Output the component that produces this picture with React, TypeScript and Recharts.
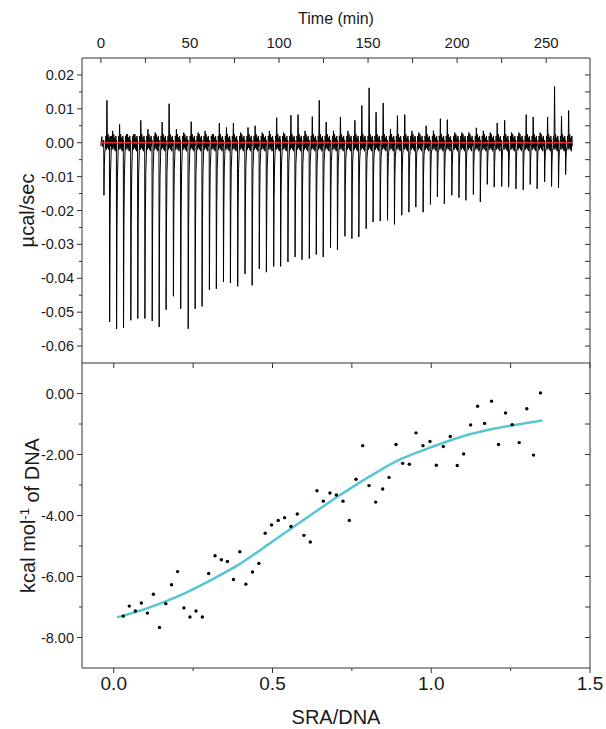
import React from "react";
import {
  ComposedChart,
  LineChart,
  Line,
  Scatter,
  XAxis,
  YAxis,
  Label,
} from "recharts";

// raw ITC thermogram: injection times (min), peak minima and noise spikes (µcal/sec)
const INJ_TIME = [
  1.6, 4.8, 8.7, 12.6, 16.7, 20.6, 24.6, 28.7, 32.6, 36.5, 40.6, 44.7, 48.9,
  52.8, 56.7, 60.8, 64.7, 68.7, 72.6, 76.7, 80.8, 84.8, 88.8, 92.8, 96.9,
  100.8, 104.9, 108.9, 112.8, 116.9, 120.8, 124.7, 128.8, 132.7, 136.9, 140.8,
  144.7, 148.8, 152.7, 156.7, 160.8, 164.7, 168.8, 172.8, 176.7, 180.8, 184.9,
  188.8, 192.7, 196.9, 200.9, 204.8, 209.0, 212.9, 216.8, 220.7, 224.9, 228.8,
  232.9, 237.0, 240.9, 244.8, 249.0, 252.9, 256.8, 260.8,
];
const PEAK_MIN = [
  -0.0155, -0.0529, -0.0549, -0.0546, -0.0524, -0.0519, -0.0519, -0.0526,
  -0.0544, -0.0493, -0.0453, -0.049, -0.0549, -0.049, -0.0483, -0.0434,
  -0.0431, -0.0411, -0.0414, -0.0424, -0.0387, -0.0421, -0.0372, -0.0382,
  -0.0365, -0.0365, -0.0352, -0.0337, -0.0345, -0.0342, -0.033, -0.0337,
  -0.031, -0.0316, -0.0276, -0.0283, -0.0278, -0.0254, -0.0234, -0.0231,
  -0.0229, -0.0241, -0.0214, -0.0205, -0.019, -0.0205, -0.0182, -0.016,
  -0.018, -0.0155, -0.0162, -0.017, -0.0153, -0.0175, -0.0123, -0.0131,
  -0.0129, -0.0131, -0.0136, -0.0139, -0.0123, -0.0136, -0.0116, -0.0129,
  -0.0133, -0.0094,
];
const PEAK_MAX = [
  0.0125, 0.0035, 0.0054, 0.0025, 0.0025, 0.0066, 0.004, 0.003, 0.0061,
  0.0115, 0.004, 0.003, 0.0062, 0.003, 0.0035, 0.0025, 0.0058, 0.0045, 0.0058,
  0.003, 0.0045, 0.005, 0.003, 0.0035, 0.0074, 0.003, 0.0081, 0.0083, 0.0035,
  0.0077, 0.0125, 0.0061, 0.0035, 0.0076, 0.0035, 0.0066, 0.011, 0.0162,
  0.009, 0.0117, 0.004, 0.008, 0.0083, 0.0035, 0.003, 0.005, 0.0035, 0.0071,
  0.0068, 0.003, 0.003, 0.003, 0.0044, 0.0035, 0.003, 0.0058, 0.0066, 0.003,
  0.003, 0.0083, 0.0076, 0.003, 0.0076, 0.0166, 0.0078, 0.0095,
];
const BASELINE_TIME = [0, 264.5];

// integrated heats per injection
const RATIO = [
  0.03, 0.049, 0.068, 0.087, 0.106, 0.125, 0.144, 0.164, 0.182, 0.201, 0.221,
  0.24, 0.259, 0.279, 0.299, 0.319, 0.339, 0.358, 0.377, 0.397, 0.416, 0.437,
  0.457, 0.477, 0.497, 0.518, 0.538, 0.558, 0.578, 0.599, 0.619, 0.64, 0.66,
  0.681, 0.701, 0.722, 0.742, 0.763, 0.784, 0.804, 0.825, 0.847, 0.867, 0.889,
  0.91, 0.931, 0.952, 0.974, 0.996, 1.016, 1.038, 1.06, 1.082, 1.102, 1.124,
  1.146, 1.168, 1.19, 1.212, 1.234, 1.255, 1.277, 1.301, 1.322, 1.344,
];
const HEAT = [
  -7.3, -6.97, -7.13, -6.87, -7.2, -6.58, -7.67, -6.89, -6.27, -5.84, -7.03,
  -7.33, -7.13, -7.33, -5.9, -5.32, -5.45, -5.51, -6.1, -5.19, -6.25, -5.85,
  -5.57, -4.58, -4.31, -4.16, -4.07, -4.36, -3.95, -4.65, -4.87, -3.19, -3.53,
  -3.26, -3.33, -3.53, -4.16, -2.81, -1.71, -3.02, -3.56, -3.13, -2.75, -1.67,
  -2.29, -2.32, -1.29, -1.71, -1.57, -2.35, -1.74, -1.41, -2.36, -1.98, -1.03,
  -0.42, -0.98, -0.25, -1.67, -0.64, -1.02, -1.61, -0.5, -2.02, 0.02,
];

// fitted binding curve
const FIT_RATIO = [0.01, 0.1, 0.2, 0.3, 0.4, 0.5, 0.6, 0.7, 0.8, 0.9, 1.0, 1.1, 1.2, 1.3, 1.35];
const FIT_HEAT = [-7.34, -7.06, -6.66, -6.15, -5.57, -4.85, -4.13, -3.42, -2.76, -2.17, -1.76, -1.4, -1.15, -0.97, -0.89];

// ticks
const TIME_TICKS = [0, 25, 50, 75, 100, 125, 150, 175, 200, 225, 250];
const RATE_TICKS = [
  -0.06, -0.055, -0.05, -0.045, -0.04, -0.035, -0.03, -0.025, -0.02, -0.015,
  -0.01, -0.005, 0, 0.005, 0.01, 0.015, 0.02,
];
const RATIO_TICKS = [0, 0.25, 0.5, 0.75, 1, 1.25, 1.5];
const HEAT_TICKS = [-8, -7, -6, -5, -4, -3, -2, -1, 0];

const AXIS = "#333";
const TEXT = "#1a1a1a";
const FONT = "'Liberation Sans', Arial, sans-serif";

// one injection peak: sharp dip, fast recovery, then baseline noise
function peakPoints(t: number, lo: number, hi: number) {
  return [
    { t: t, v: 0.0008 },
    { t: t + 0.12, v: lo },
    { t: t + 0.35, v: lo * 0.45 },
    { t: t + 0.6, v: lo * 0.18 },
    { t: t + 0.9, v: lo * 0.06 - 0.001 },
    { t: t + 1.2, v: 0.002 },
    { t: t + 1.5, v: -0.002 },
    { t: t + 1.8, v: hi },
    { t: t + 2.1, v: -0.0015 },
    { t: t + 2.4, v: 0.0025 },
    { t: t + 2.7, v: -0.002 },
    { t: t + 3.0, v: 0.0015 },
    { t: t + 3.3, v: -0.0025 },
    { t: t + 3.6, v: 0.002 },
    { t: t + 3.85, v: -0.001 },
  ];
}

const trace = [
  { t: 0, v: -0.001 },
  { t: 0.5, v: 0.0018 },
  { t: 1.0, v: -0.0012 },
  ...INJ_TIME.flatMap((t, i) => peakPoints(t, PEAK_MIN[i], PEAK_MAX[i])),
];
const baseline = BASELINE_TIME.map((t) => ({ t, v: 0 }));
const heats = RATIO.map((x, i) => ({ x, y: HEAT[i] }));
const fit = FIT_RATIO.map((x, i) => ({ x, y: FIT_HEAT[i] }));

const near = (a: number, b: number) => Math.abs(a - b) < 1e-6;

const tickLeft = (isMajor: (v: number) => boolean, fmt: (v: number) => string, size: number) =>
  (p: any) => {
    const major = isMajor(p.payload.value);
    return (
      <g>
        <line x1={p.x - (major ? 5 : 3)} x2={p.x} y1={p.y} y2={p.y} stroke={AXIS} />
        {major && (
          <text x={p.x - 8} y={p.y} dy="0.35em" textAnchor="end" fontSize={size} fill={TEXT} fontFamily={FONT}>
            {fmt(p.payload.value)}
          </text>
        )}
      </g>
    );
  };

const tickRight = (isMajor: (v: number) => boolean) => (p: any) => (
  <line x1={p.x} x2={p.x - (isMajor(p.payload.value) ? 5 : 3)} y1={p.y} y2={p.y} stroke={AXIS} />
);

const tickTop = (isMajor: (v: number) => boolean, size: number) => (p: any) => {
  const major = isMajor(p.payload.value);
  return (
    <g>
      <line x1={p.x} x2={p.x} y1={p.y} y2={p.y + 5} stroke={AXIS} />
      {major && size > 0 && (
        <text x={p.x} y={p.y - 10} textAnchor="middle" fontSize={size} fill={TEXT} fontFamily={FONT}>
          {p.payload.value}
        </text>
      )}
    </g>
  );
};

const tickBottom = (isMajor: (v: number) => boolean, size: number) => (p: any) => {
  const major = isMajor(p.payload.value);
  return (
    <g>
      <line x1={p.x} x2={p.x} y1={p.y} y2={p.y + (major ? 5 : 3)} stroke={AXIS} />
      {major && (
        <text x={p.x} y={p.y + 22} textAnchor="middle" fontSize={size} fill={TEXT} fontFamily={FONT}>
          {p.payload.value.toFixed(1)}
        </text>
      )}
    </g>
  );
};

const rateMajor = (v: number) => near(v * 100, Math.round(v * 100));
const timeMajor = (v: number) => v % 50 === 0;
const ratioMajor = (v: number) => near(v * 2, Math.round(v * 2));
const heatMajor = (v: number) => v % 2 === 0;

export default function App() {
  return (
    <div style={{ position: "absolute", left: 0, top: 0, width: 606, height: 729, background: "#fff" }}>
      <div style={{ position: "absolute", left: 0, top: 0 }}>
        <LineChart width={606} height={373} data={trace} margin={{ top: 0, right: 15, bottom: 10, left: 0 }}>
          <XAxis
            dataKey="t"
            type="number"
            orientation="top"
            domain={[-10.6, 274.6]}
            ticks={TIME_TICKS}
            interval={0}
            height={58}
            allowDataOverflow
            tickSize={0}
            tickMargin={0}
            tickLine={false}
            axisLine={{ stroke: AXIS }}
            tick={tickTop(timeMajor, 15)}
          >
            <Label
              content={(props: any) => {
                const vb = props.viewBox;
                return (
                  <text x={vb.x + vb.width / 2} y={18} dy="0.35em" textAnchor="middle" fontSize={16} fill={TEXT} fontFamily={FONT}>
                    Time (min)
                  </text>
                );
              }}
            />
          </XAxis>
          <YAxis
            type="number"
            domain={[-0.065, 0.025]}
            ticks={RATE_TICKS}
            interval={0}
            width={82}
            allowDataOverflow
            tickSize={0}
            tickMargin={0}
            tickLine={false}
            axisLine={{ stroke: AXIS }}
            tick={tickLeft(rateMajor, (v) => v.toFixed(2), 14.5)}
          >
            <Label
              content={(props: any) => {
                const vb = props.viewBox;
                const cx = vb.x + 27;
                const cy = vb.y + vb.height / 2;
                return (
                  <text x={cx} y={cy} dy="0.35em" transform={`rotate(-90 ${cx} ${cy})`} textAnchor="middle" fontSize={20} fill={TEXT} fontFamily={FONT}>
                    µcal/sec
                  </text>
                );
              }}
            />
          </YAxis>
          <YAxis
            yAxisId="right"
            orientation="right"
            type="number"
            domain={[-0.065, 0.025]}
            ticks={RATE_TICKS}
            interval={0}
            width={1}
            allowDataOverflow
            tickSize={0}
            tickMargin={0}
            tickLine={false}
            axisLine={{ stroke: AXIS }}
            tick={tickRight(() => true)}
          />
          <Line
            dataKey="v"
            type="linear"
            stroke="#000"
            strokeWidth={1}
            dot={false}
            isAnimationActive={false}
          />
          <Line
            data={baseline}
            dataKey="v"
            type="linear"
            stroke="#e8302c"
            strokeWidth={1.5}
            dot={false}
            isAnimationActive={false}
          />
          <Line
            data={baseline}
            yAxisId="right"
            dataKey="v"
            stroke="none"
            dot={false}
            isAnimationActive={false}
          />
        </LineChart>
      </div>
      <div style={{ position: "absolute", left: 0, top: 353 }}>
        <ComposedChart width={606} height={376} margin={{ top: 9, right: 15, bottom: 0, left: 0 }}>
          <XAxis
            dataKey="x"
            type="number"
            domain={[-0.1, 1.5]}
            ticks={RATIO_TICKS}
            interval={0}
            height={61}
            allowDataOverflow
            tickSize={0}
            tickMargin={0}
            tickLine={false}
            axisLine={{ stroke: AXIS }}
            tick={tickBottom(ratioMajor, 19)}
          >
            <Label
              content={(props: any) => {
                const vb = props.viewBox;
                return (
                  <text x={vb.x + vb.width / 2} y={vb.y + 49} dy="0.35em" textAnchor="middle" fontSize={20} fill={TEXT} fontFamily={FONT}>
                    SRA/DNA
                  </text>
                );
              }}
            />
          </XAxis>
          <XAxis
            xAxisId="top"
            dataKey="x"
            orientation="top"
            type="number"
            domain={[-0.1, 1.5]}
            ticks={RATIO_TICKS}
            interval={0}
            height={1}
            allowDataOverflow
            tickSize={0}
            tickMargin={0}
            tickLine={false}
            axisLine={{ stroke: AXIS }}
            tick={tickTop(() => true, 0)}
          />
          <YAxis
            type="number"
            domain={[-9, 1]}
            ticks={HEAT_TICKS}
            interval={0}
            width={82}
            allowDataOverflow
            tickSize={0}
            tickMargin={0}
            tickLine={false}
            axisLine={{ stroke: AXIS }}
            tick={tickLeft(heatMajor, (v) => v.toFixed(2), 14.5)}
          >
            <Label
              content={(props: any) => {
                const vb = props.viewBox;
                const cx = vb.x + 28;
                const cy = vb.y + vb.height / 2;
                return (
                  <text x={cx} y={cy} dy="0.35em" transform={`rotate(-90 ${cx} ${cy})`} textAnchor="middle" fontSize={20} fill={TEXT} fontFamily={FONT}>
                    kcal mol
                    <tspan dy="-0.5em" fontSize={13}>-1</tspan>
                    <tspan dy="0.5em"> of DNA</tspan>
                  </text>
                );
              }}
            />
          </YAxis>
          <YAxis
            yAxisId="right"
            orientation="right"
            type="number"
            domain={[-9, 1]}
            ticks={HEAT_TICKS}
            interval={0}
            width={1}
            allowDataOverflow
            tickSize={0}
            tickMargin={0}
            tickLine={false}
            axisLine={{ stroke: AXIS }}
            tick={tickRight(() => true)}
          />
          <Scatter
            data={heats}
            dataKey="y"
            fill="#000"
            isAnimationActive={false}
            shape={(p: any) => <circle cx={p.cx} cy={p.cy} r={1.7} fill="#000" />}
          />
          <Line
            data={fit}
            dataKey="y"
            type="monotone"
            stroke="#58c6d2"
            strokeWidth={2.5}
            dot={false}
            isAnimationActive={false}
          />
          <Line
            data={fit}
            xAxisId="top"
            yAxisId="right"
            dataKey="y"
            stroke="none"
            dot={false}
            isAnimationActive={false}
          />
        </ComposedChart>
      </div>
    </div>
  );
}
